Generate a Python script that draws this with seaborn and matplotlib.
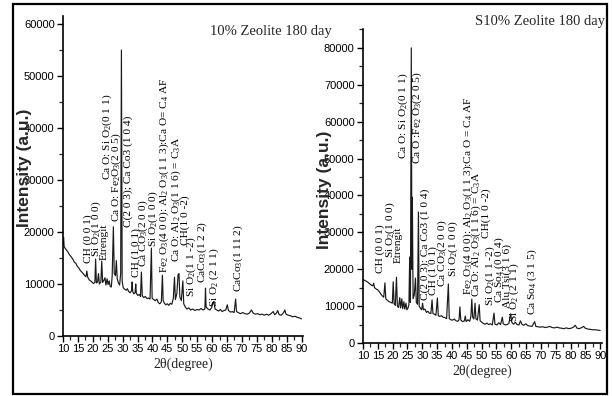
import matplotlib
matplotlib.use("Agg")
import matplotlib.pyplot as plt
import seaborn as sns
import pandas as pd
from matplotlib.ticker import MultipleLocator
from matplotlib.patches import Rectangle

# ---------------- data ----------------
left_title = "10% Zeolite 180 day"
right_title = "S10% Zeolite 180 day"
x_label = "2θ(degree)"
y_label = "Intensity (a.u.)"

left_theta = [10.0, 10.2, 10.4, 10.8, 11.5, 12.2, 12.8, 13.3, 13.8, 14.3, 14.8, 15.3, 15.8, 16.3,
              16.8, 17.3, 17.7, 18.0, 18.3, 18.8, 19.5, 20.2, 20.7, 20.95, 21.2, 21.6, 21.9, 22.2,
              22.7, 23.0, 23.3, 23.8, 24.1, 24.4, 24.8, 25.1, 25.5, 25.8, 26.2, 26.5, 26.9, 27.2,
              27.6, 27.9, 28.2, 28.6, 29.0, 29.35, 29.6, 29.85, 30.2, 30.7, 31.2, 31.6, 32.0, 32.5,
              33.0, 33.2, 33.4, 33.8, 34.2, 34.4, 34.6, 35.1, 35.6, 36.0, 36.3, 36.6, 37.1, 37.6,
              38.2, 38.7, 39.2, 39.65, 39.9, 40.4, 41.0, 41.5, 42.0, 42.5, 43.0, 43.35, 43.6, 44.0,
              44.5, 45.0, 45.5, 46.0, 46.5, 47.0, 47.4, 47.7, 48.2, 48.6, 48.9, 49.2, 49.7, 50.2,
              50.5, 51.0, 51.5, 52.2, 52.8, 53.5, 54.2, 55.0, 55.7, 56.3, 57.0, 57.6, 57.8, 58.0,
              58.6, 59.3, 59.8, 60.3, 60.6, 61.0, 61.6, 62.2, 62.8, 63.4, 64.0, 64.6, 65.1, 65.5,
              66.2, 66.8, 67.4, 67.9, 68.2, 68.8, 69.5, 70.3, 71.0, 71.8, 72.5, 73.2, 73.8, 74.5,
              75.3, 76.0, 76.8, 77.5, 78.3, 79.0, 79.8, 80.5, 81.0, 81.6, 82.0, 82.5, 83.2, 84.0,
              84.4, 84.8, 85.5, 86.3, 87.0, 87.8, 88.5, 89.2, 90.0]
left_int = [17500, 19000, 17200, 16800, 16300, 15600, 15200, 14800, 14200, 14000, 13400, 13100, 12600, 12300,
            12000, 11600, 11400, 12500, 11300, 10800, 10500, 10100, 10300, 14800, 10200, 10400, 12000, 10000,
            10400, 14400, 10300, 10800, 11200, 9800, 11000, 9900, 10600, 9600, 9400, 11500, 21000, 12000,
            11600, 14500, 11000, 10200, 9800, 12000, 55000, 10500, 9300, 9000, 8800, 9100, 8600, 8300,
            8700, 10400, 8500, 8100, 8400, 10000, 8200, 7800, 8000, 7600, 12300, 7700, 7400, 7600,
            7200, 7300, 7100, 16900, 7300, 7000, 6800, 7100, 6400, 6200, 6600, 11700, 6800, 6300,
            6000, 6200, 5900, 6300, 6100, 7200, 11300, 7000, 8200, 11800, 12000, 7500, 6800, 10600,
            6200, 5600, 5200, 5400, 5000, 5200, 4900, 5100, 5000, 5300, 5000, 5200, 9200, 5600,
            5200, 5000, 5400, 6300, 6600, 5200, 5000, 4800, 5100, 4700, 4900, 5000, 6000, 4900,
            4600, 4700, 4500, 7100, 4700, 4500, 4300, 4500, 4300, 4200, 4400, 5000, 4400, 4200,
            4300, 4100, 4200, 4000, 4200, 4000, 4300, 4700, 4100, 4400, 4900, 4100, 4000, 4500,
            5000, 4200, 4000, 3900, 3700, 3800, 3600, 3500, 3300]

right_theta = [10.0, 10.5, 11.0, 11.6, 12.2, 12.8, 13.3, 13.6, 13.9, 14.5, 15.0, 15.5, 16.0, 16.5,
               17.0, 17.4, 17.7, 18.2, 18.8, 19.4, 19.9, 20.2, 20.5, 20.9, 21.3, 21.6, 22.0, 22.4,
               22.7, 23.1, 23.4, 23.8, 24.1, 24.5, 24.8, 25.2, 25.5, 25.75, 26.0, 26.3, 26.5, 26.65,
               26.9, 27.3, 27.7, 28.0, 28.4, 28.7, 28.95, 29.4, 29.8, 30.1, 30.4, 30.9, 31.4, 31.9,
               32.4, 32.9, 33.3, 33.6, 34.1, 34.6, 35.1, 35.4, 35.9, 36.5, 37.0, 37.6, 38.2, 38.8,
               39.1, 39.6, 40.2, 40.8, 41.4, 42.0, 42.4, 42.7, 43.0, 43.6, 44.2, 44.5, 44.8, 45.4,
               46.0, 46.4, 46.7, 47.0, 47.4, 47.8, 48.1, 48.6, 49.2, 49.5, 50.0, 50.6, 51.2, 51.8,
               52.4, 53.0, 53.6, 54.2, 54.5, 55.2, 55.8, 56.4, 57.0, 57.3, 58.0, 58.6, 59.2, 59.8,
               60.2, 60.8, 61.4, 62.0, 62.6, 63.1, 63.6, 64.2, 64.9, 65.6, 66.3, 67.0, 67.9, 68.3,
               69.0, 69.8, 70.6, 71.4, 72.2, 73.0, 73.8, 74.6, 75.4, 76.2, 77.0, 77.8, 78.6, 79.4,
               80.2, 81.0, 81.6, 82.2, 83.0, 83.8, 84.4, 85.0, 85.8, 86.6, 87.4, 88.2, 89.0, 90.0]
right_int = [17300, 17000, 16800, 16500, 16100, 15700, 15500, 16200, 15000, 14600, 14400, 13900, 13300, 12800,
             12400, 16300, 12000, 11600, 11200, 11000, 10800, 16600, 10600, 10200, 17800, 10000, 9600, 12300,
             9500, 12000, 9300, 11200, 9200, 10800, 9000, 9500, 10500, 23300, 11000, 80000, 20000, 39500,
             12000, 13000, 17600, 11000, 10500, 35500, 10000, 9400, 9000, 10800, 9000, 9200, 8300, 8600,
             8100, 8000, 11700, 8000, 7800, 7500, 12200, 7400, 7200, 7400, 7000, 6900, 6600, 16000,
             6600, 6300, 6200, 6500, 6000, 5900, 6300, 9800, 6200, 5800, 6000, 7300, 5800, 6300,
             5900, 7200, 11900, 7000, 6500, 10800, 6600, 6200, 10400, 6000, 5700, 5300, 5100, 5400,
             5000, 5200, 4900, 8100, 5100, 4900, 5500, 5000, 7000, 5200, 4900, 5000, 5300, 7900,
             5600, 5100, 5600, 5000, 4900, 6000, 5100, 4800, 5200, 4700, 4600, 4500, 5800, 4500,
             4400, 4300, 4400, 4200, 4300, 4500, 4200, 4100, 4300, 4100, 4000, 3900, 4100, 3900,
             4000, 4300, 4800, 4000, 3900, 4200, 4500, 4000, 3800, 3700, 3600, 3600, 3500, 3400]

left_peak_labels = ["CH (0 0 1)", "Si O$_2$(1 0 0)", "Etrengit", "Ca O: Si O$_2$(0 1 1)",
                    "Ca O: Fe$_2$O$_3$(2 0 5)", "C(2 0 3); Ca Co3 (1 0 4)", "CH (1 0 1)",
                    "Ca CO$_3$(2 0 0)", "Si O$_2$(1 0 0)",
                    "Fe$_2$ O$_3$(4 0 0): Al$_2$ O$_3$(1 1 3):Ca O= C$_4$ AF",
                    "Ca O: Al$_2$ O$_3$(1 1 6) = C$_3$A", "CH(1 0 -2)", "Si O$_2$(1 1 -2)",
                    "CaCo$_3$(1 2 2)", "Si O$_2$ (2 1 1)", "CaCo$_3$(1 11 2)"]
left_label_theta = [18.3, 21.1, 23.9, 25.0, 28.0, 31.9, 34.4, 37.0, 40.3, 44.0, 47.9, 51.0, 53.0, 56.7, 60.7, 68.7]
left_label_base = [14000, 15200, 14600, 30000, 22000, 21000, 11300, 13300, 17100, 12100, 14200, 17500, 7500, 10200, 5600, 8500]

right_peak_labels = ["CH (0 0 1)", "Si O$_2$(1 0 0)", "Etrengit", "Ca O: Si O$_2$(0 1 1)",
                     "Ca O :Fe$_2$ O$_3$(2 0 5)", "C(2 0 3): Ca Co3 (1 0 4)", "CH (1 0 1)",
                     "Ca CO$_3$(2 0 0)", "Si O$_2$(1 0 0)",
                     "Fe$_2$ O$_3$(4 0 0): Al$_2$ O$_3$(1 1 3):Ca O = C$_4$ AF",
                     "Ca O: Al$_2$ O$_3$(1 1 6) = C$_3$A", "CH(1 0 -2)", "Si O$_2$(1 1 -2)",
                     "Ca So$_4$ (0 0 4)", "Alu Tsi(3 1 6)", "Si O$_2$ (2 1 1)", "Ca So$_4$ (3 1 5)"]
right_label_theta = [15.7, 19.3, 21.9, 23.7, 28.4, 31.1, 33.6, 36.9, 40.5, 45.4, 48.3, 51.6, 52.9, 55.9, 58.7, 61.1, 67.0]
right_label_base = [19000, 23000, 21700, 50000, 48500, 11700, 13000, 15200, 17900, 13000, 12500, 28500, 10000, 10800, 9500, 5700, 7600]

# ---------------- style ----------------
sns.set_style("ticks")
plt.rcParams["font.family"] = ["Liberation Serif", "DejaVu Serif"]
plt.rcParams["mathtext.fontset"] = "custom"
plt.rcParams["mathtext.rm"] = "Liberation Serif"
plt.rcParams["mathtext.it"] = "Liberation Serif:italic"
plt.rcParams["mathtext.bf"] = "Liberation Serif:bold"

tick_family = ["Liberation Sans Narrow", "Liberation Sans", "DejaVu Sans"]
label_fs = 8.2

fig = plt.figure(figsize=(6.12, 3.96), dpi=100)
axL = fig.add_axes([0.1029, 0.1515, 0.3922, 0.8075])
axR = fig.add_axes([0.5931, 0.1338, 0.3900, 0.7920])

def setup(ax, theta, inten, ytop, labels, lt, lb):
    df = pd.DataFrame({"theta": theta, "I": inten})
    sns.lineplot(data=df, x="theta", y="I", ax=ax, color="#1a1a1a", lw=0.85,
                 estimator=None, sort=False)
    ax.set_xlim(10, 90.5)
    ax.set_ylim(0, ytop)
    for s in ["top", "right"]:
        ax.spines[s].set_visible(False)
    for s in ["left", "bottom"]:
        ax.spines[s].set_linewidth(1.2)
        ax.spines[s].set_color("black")
    ax.xaxis.set_major_locator(MultipleLocator(5))
    ax.xaxis.set_minor_locator(MultipleLocator(2.5))
    ax.yaxis.set_major_locator(MultipleLocator(10000))
    ax.yaxis.set_minor_locator(MultipleLocator(5000))
    ax.ticklabel_format(style="plain", axis="y", useOffset=False)
    ax.tick_params(which="major", direction="out", length=4, width=1, pad=2, labelsize=8, colors="black")
    ax.tick_params(which="minor", direction="out", length=3, width=0.9)
    for t in ax.get_xticklabels() + ax.get_yticklabels():
        t.set_fontfamily(tick_family)
    ax.set_xlabel(x_label, fontsize=10, labelpad=2)
    ax.set_ylabel("")
    for s, x, y in zip(labels, lt, lb):
        ax.text(x, y, s, rotation=90, ha="center", va="bottom", fontsize=label_fs, color="black")

setup(axL, left_theta, left_int, 61500, left_peak_labels, left_label_theta, left_label_base)
setup(axR, right_theta, right_int, 85000, right_peak_labels, right_label_theta, right_label_base)

# y labels (bold sans)
fig.text(25 / 612, 1 - 168 / 396, y_label, rotation=90, ha="center", va="center",
         fontsize=12.5, fontweight="bold", family=["Liberation Sans", "DejaVu Sans"])
fig.text(324 / 612, 1 - 190 / 396, y_label, rotation=90, ha="center", va="center",
         fontsize=12.5, fontweight="bold", family=["Liberation Sans", "DejaVu Sans"])

# titles
fig.text(210 / 612, 1 - 32 / 396, left_title, ha="left", va="center", fontsize=10.5)
fig.text(605 / 612, 1 - 22 / 396, right_title, ha="right", va="center", fontsize=10.5)

# outer frame
fig.add_artist(Rectangle((0.0207, 0.0063), 0.9713, 0.9836, transform=fig.transFigure,
                         fill=False, lw=1.6, ec="black"))

fig.savefig("out.png", dpi=100)
